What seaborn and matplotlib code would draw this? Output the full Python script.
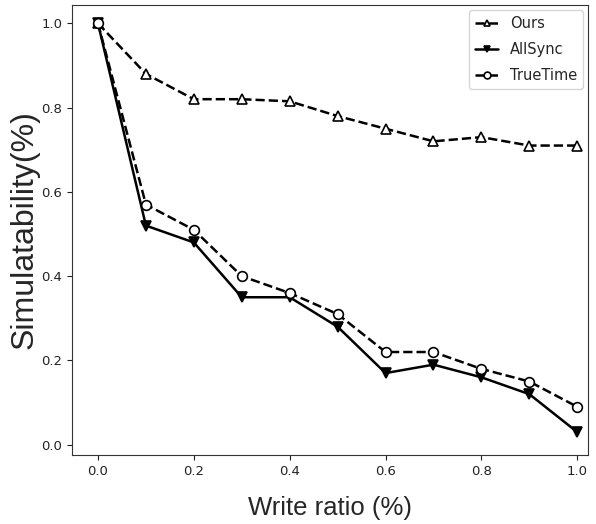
import matplotlib
matplotlib.use("Agg")
import matplotlib.pyplot as plt
import pandas as pd
import seaborn as sns

write_ratio = [0.0, 0.1, 0.2, 0.3, 0.4, 0.5, 0.6, 0.7, 0.8, 0.9, 1.0]
ours = [1.0, 0.88, 0.82, 0.82, 0.815, 0.78, 0.75, 0.72, 0.73, 0.71, 0.71]
allsync = [1.0, 0.52, 0.48, 0.35, 0.35, 0.28, 0.17, 0.19, 0.16, 0.12, 0.03]
truetime = [1.0, 0.57, 0.51, 0.40, 0.36, 0.31, 0.22, 0.22, 0.18, 0.15, 0.09]

sns.set_style("ticks")

df = pd.DataFrame({"x": write_ratio, "Ours": ours, "AllSync": allsync, "TrueTime": truetime})

fig = plt.figure(figsize=(5.96, 5.24), dpi=100)
ax = fig.add_axes([0.121, 0.132, 0.866, 0.858])

styles = {
    "Ours": dict(marker="^", linestyle="--", markerfacecolor="white"),
    "AllSync": dict(marker="v", linestyle="-", markerfacecolor="black"),
    "TrueTime": dict(marker="o", linestyle="--", markerfacecolor="white"),
}
for name, st in styles.items():
    sns.lineplot(data=df, x="x", y=name, ax=ax, color="black", lw=1.8,
                 marker=st["marker"], linestyle=st["linestyle"],
                 markerfacecolor=st["markerfacecolor"], markeredgecolor="black",
                 markeredgewidth=1.2, markersize=7, label=name)

ax.set_xlim(-0.054, 1.023)
ax.set_ylim(-0.024, 1.043)
ax.set_xticks([0.0, 0.2, 0.4, 0.6, 0.8, 1.0])
ax.set_yticks([0.0, 0.2, 0.4, 0.6, 0.8, 1.0])
ax.tick_params(labelsize=9.5, colors="#222222")
for s in ax.spines.values():
    s.set_visible(True)
    s.set_color("#333333")

ax.set_xlabel("Write ratio (%)", fontsize=18.5, family="Liberation Sans", labelpad=13)
ax.set_ylabel("Simulatability(%)", fontsize=23, family="Liberation Sans", labelpad=1)
ax.legend(loc="upper right", fontsize=10.5, handlelength=1.6, markerscale=0.7,
          labelspacing=0.75, borderaxespad=0.35, frameon=True)

fig.savefig("out.png", dpi=100)
